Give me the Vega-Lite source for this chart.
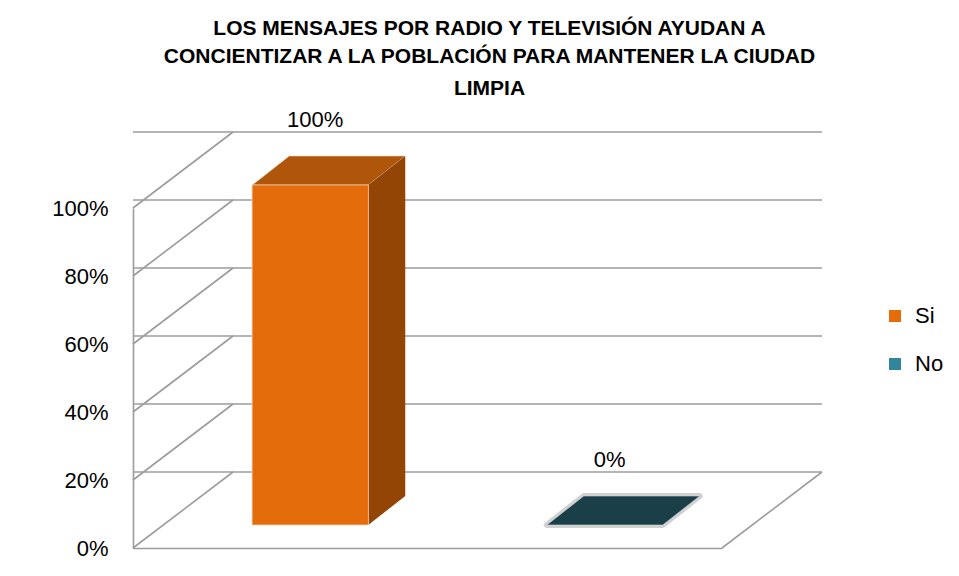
{
  "$schema": "https://vega.github.io/schema/vega-lite/v6.json",
  "width": 589,
  "height": 340,
  "autosize": "none",
  "padding": {"left": 133, "top": 208, "right": 237, "bottom": 28},
  "background": "white",
  "config": {"view": {"stroke": null}, "font": "Liberation Sans"},
  "title": {
    "text": ["LOS  MENSAJES  POR RADIO  Y TELEVISIÓN  AYUDAN  A", "CONCIENTIZAR  A LA POBLACIÓN  PARA MANTENER  LA CIUDAD"],
    "subtitle": "LIMPIA",
    "anchor": "middle",
    "dx": 62,
    "font": "Liberation Sans",
    "fontSize": 21,
    "fontWeight": "bold",
    "color": "#000000",
    "lineHeight": 28,
    "subtitleFont": "Liberation Sans",
    "subtitleFontSize": 21,
    "subtitleFontWeight": "bold",
    "subtitleColor": "#000000",
    "subtitlePadding": 11,
    "offset": 10
  },
  "datasets": {
    "respuestas": [
      {"respuesta": "Si", "porcentaje": 1},
      {"respuesta": "No", "porcentaje": 0}
    ],
    "marcas": [
      {"nivel": 0}, {"nivel": 0.2}, {"nivel": 0.4}, {"nivel": 0.6}, {"nivel": 0.8}, {"nivel": 1}
    ]
  },
  "layer": [
    {
      "data": {"name": "marcas"},
      "mark": {"type": "rule", "color": "#9C9C9C", "strokeWidth": 1.6, "xOffset": 100, "x2Offset": 100, "yOffset": -76},
      "encoding": {
        "y": {
          "field": "nivel", "type": "quantitative",
          "scale": {"domain": [0, 1], "nice": false, "zero": true},
          "axis": {
            "values": [0, 0.2, 0.4, 0.6, 0.8, 1], "format": ".0%",
            "labelFontSize": 22, "labelFont": "Liberation Sans", "labelColor": "#000000",
            "labelPadding": 25, "ticks": false, "grid": false,
            "domainColor": "#9C9C9C", "domainWidth": 1.6, "title": null
          }
        }
      }
    },
    {
      "data": {"name": "marcas"},
      "mark": {"type": "rule", "color": "#9C9C9C", "strokeWidth": 1.6, "x2Offset": 100, "y2Offset": -76},
      "encoding": {
        "x": {"datum": "Si", "type": "nominal", "bandPosition": 0},
        "x2": {"datum": "Si", "bandPosition": 0},
        "y": {"field": "nivel", "type": "quantitative"},
        "y2": {"field": "nivel"}
      }
    },
    {
      "data": {"name": "respuestas"},
      "transform": [{"filter": "datum.respuesta == 'No'"}],
      "mark": {"type": "rule", "color": "#9C9C9C", "strokeWidth": 1.6, "x2Offset": 100, "y2Offset": -76},
      "encoding": {
        "x": {"datum": "No", "type": "nominal", "bandPosition": 1},
        "x2": {"datum": "No", "bandPosition": 1},
        "y": {"datum": 0, "type": "quantitative"},
        "y2": {"datum": 0}
      }
    },
    {
      "data": {"name": "respuestas"},
      "transform": [{"filter": "datum.porcentaje > 0"}],
      "mark": {"type": "bar", "width": 37, "xOffset": 106.5, "yOffset": -23, "y2Offset": -52, "color": "#934506"},
      "encoding": {
        "x": {
          "field": "respuesta", "type": "nominal",
          "scale": {"domain": ["Si", "No"], "paddingInner": 0, "paddingOuter": 0},
          "axis": {"labels": false, "ticks": false, "title": null, "domainColor": "#9C9C9C", "domainWidth": 1.6, "grid": false}
        },
        "y": {"field": "porcentaje", "type": "quantitative"},
        "y2": {"datum": 0}
      }
    },
    {
      "data": {"name": "respuestas"},
      "transform": [{"filter": "datum.porcentaje > 0"}],
      "mark": {"type": "point", "shape": "M0.88,-0.52L0.88,-0.23L1.25,-0.52Z", "size": 40000, "filled": true, "opacity": 1, "color": "#934506", "strokeWidth": 0},
      "encoding": {
        "x": {"field": "respuesta", "type": "nominal"},
        "y": {"datum": 0, "type": "quantitative"}
      }
    },
    {
      "data": {"name": "respuestas"},
      "transform": [{"filter": "datum.porcentaje == 0"}],
      "mark": {"type": "point", "shape": "M-0.28,-0.23L0.88,-0.23L1.25,-0.52L0.09,-0.52Z", "size": 40000, "filled": false, "opacity": 0.45, "stroke": "#9A9A9A", "strokeWidth": 6, "strokeJoin": "round"},
      "encoding": {
        "x": {"field": "respuesta", "type": "nominal"},
        "y": {"field": "porcentaje", "type": "quantitative"}
      }
    },
    {
      "data": {"name": "respuestas"},
      "transform": [{"filter": "datum.respuesta == 'Si'"}],
      "mark": {"type": "point", "shape": "M-0.28,-0.23L0.88,-0.23L1.25,-0.52L0.09,-0.52Z", "size": 40000, "filled": true, "opacity": 1, "color": "#B0560A", "stroke": "#F2D2B8", "strokeOpacity": 0.6, "strokeWidth": 1},
      "encoding": {
        "x": {"field": "respuesta", "type": "nominal"},
        "y": {"field": "porcentaje", "type": "quantitative"}
      }
    },
    {
      "data": {"name": "respuestas"},
      "transform": [{"filter": "datum.respuesta == 'No'"}],
      "mark": {"type": "point", "shape": "M-0.28,-0.23L0.88,-0.23L1.25,-0.52L0.09,-0.52Z", "size": 40000, "filled": true, "opacity": 1, "color": "#1A3F49", "stroke": "#D0D8DA", "strokeOpacity": 0.6, "strokeWidth": 1},
      "encoding": {
        "x": {"field": "respuesta", "type": "nominal"},
        "y": {"field": "porcentaje", "type": "quantitative"}
      }
    },
    {
      "data": {"name": "respuestas"},
      "transform": [{"filter": "datum.porcentaje > 0"}],
      "mark": {"type": "point", "shape": "M0.88,-0.23L1.25,-0.52L1.25,-0.23Z", "size": 40000, "filled": true, "opacity": 1, "color": "#934506", "strokeWidth": 0},
      "encoding": {
        "x": {"field": "respuesta", "type": "nominal"},
        "y": {"field": "porcentaje", "type": "quantitative"}
      }
    },
    {
      "data": {"name": "respuestas"},
      "transform": [{"filter": "datum.porcentaje > 0"}],
      "mark": {"type": "bar", "width": {"band": 0.395}, "xOffset": 30, "yOffset": -23, "y2Offset": -23, "stroke": "#F6D8C0", "strokeWidth": 1, "strokeOpacity": 0.7},
      "encoding": {
        "x": {"field": "respuesta", "type": "nominal"},
        "y": {"field": "porcentaje", "type": "quantitative"},
        "y2": {"datum": 0},
        "color": {
          "field": "respuesta", "type": "nominal",
          "scale": {"domain": ["Si", "No"], "range": ["#E46C0A", "#31859C"]},
          "legend": {
            "orient": "none", "legendX": 751, "legendY": 97, "title": null,
            "symbolType": "square", "symbolSize": 144, "symbolStrokeWidth": 0,
            "labelFontSize": 22, "labelFont": "Liberation Sans", "labelColor": "#000000",
            "rowPadding": 26, "labelOffset": 9, "padding": 0
          }
        }
      }
    },
    {
      "data": {"name": "respuestas"},
      "mark": {"type": "text", "xOffset": 35, "yOffset": -81, "baseline": "alphabetic", "align": "center", "fontSize": 22, "font": "Liberation Sans", "color": "#000000"},
      "encoding": {
        "x": {"field": "respuesta", "type": "nominal"},
        "y": {"field": "porcentaje", "type": "quantitative"},
        "text": {"field": "porcentaje", "type": "quantitative", "format": ".0%"}
      }
    }
  ]
}
